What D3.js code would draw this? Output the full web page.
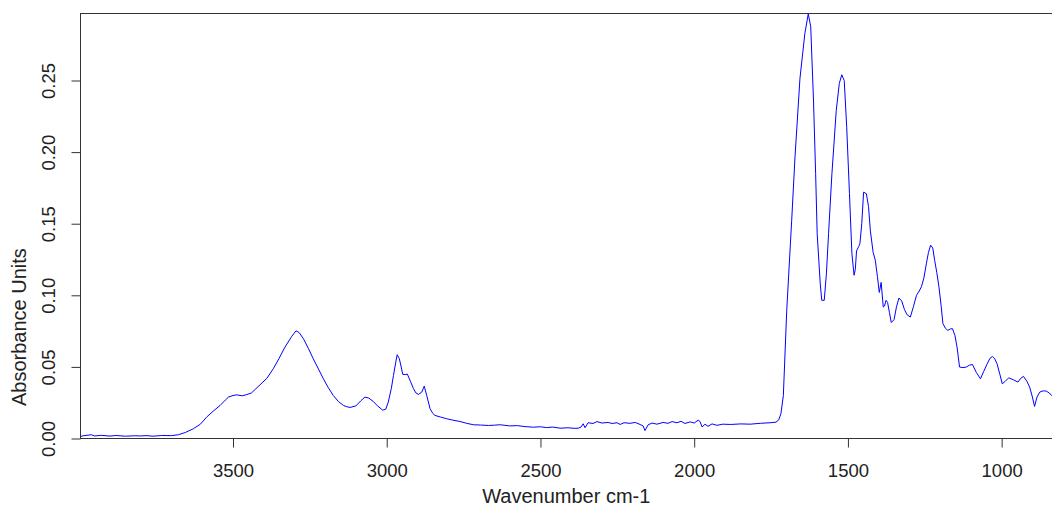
<!DOCTYPE html>
<html>
<head>
<meta charset="utf-8">
<script src="https://cdn.jsdelivr.net/npm/d3@7"></script>
<style>
  html, body { margin: 0; padding: 0; background: #fff; }
  svg { display: block; }
  text { font-family: "Liberation Sans", Arial, sans-serif; fill: #222; }
</style>
</head>
<body>
<svg id="chart" width="1052" height="509"></svg>
<script>
// IR spectrum: wavenumber (cm-1) and absorbance
const wavenumber = [
  3996, 3985, 3960, 3950, 3930, 3900, 3880, 3850, 3820, 3800, 3780, 3760, 3732, 3700, 3678,
  3655, 3629, 3606, 3586, 3565, 3542, 3525, 3515, 3500, 3488, 3470, 3455, 3440, 3412, 3390,
  3369, 3350, 3331, 3310, 3295, 3285, 3271, 3255, 3239, 3222, 3206, 3190, 3174, 3157, 3141,
  3130, 3119, 3100, 3085, 3071, 3058, 3044, 3030, 3013, 3003, 2995, 2985, 2978, 2970, 2966,
  2959, 2953, 2948, 2940, 2933, 2923, 2913, 2905, 2897, 2886, 2878, 2870, 2859, 2850, 2843,
  2825, 2805, 2785, 2762, 2740, 2718, 2695, 2669, 2650, 2631, 2600, 2575, 2550, 2523, 2500,
  2480, 2460, 2436, 2410, 2390, 2377, 2368,
  2361, 2355, 2345, 2329, 2316, 2300, 2280, 2267, 2251, 2241, 2228, 2209, 2192, 2176, 2166,
  2160, 2150, 2137, 2121, 2101, 2085, 2072, 2056, 2043, 2030, 2013, 2000, 1987, 1981, 1974,
  1965, 1955, 1942, 1926, 1907, 1881, 1848, 1818, 1785, 1753, 1734, 1725,
  1718, 1710, 1699, 1683, 1672, 1656, 1640, 1629, 1621, 1612, 1605, 1600, 1590, 1585, 1577,
  1570, 1563, 1552, 1538, 1528, 1520, 1512, 1504, 1495, 1487, 1480, 1476, 1472, 1465, 1461,
  1455, 1449, 1440, 1433, 1427, 1418, 1411, 1404, 1398, 1392, 1385, 1381, 1376, 1371, 1365,
  1359, 1350, 1342, 1334, 1325, 1316, 1308, 1297, 1287, 1277, 1268, 1261, 1253, 1245, 1238,
  1231, 1224, 1218, 1211, 1204, 1197, 1191, 1183, 1175, 1167, 1160, 1152, 1145, 1137, 1126,
  1115, 1105, 1095, 1082, 1069, 1058, 1047, 1038, 1030, 1022, 1015, 1006, 998, 988, 977,
  962, 947, 938, 929, 918, 909, 900, 893, 885, 876, 865, 855, 845, 838, 833
];

const absorbance = [
  0.0014, 0.0020, 0.0026, 0.0018, 0.0022, 0.0017, 0.0021, 0.0016, 0.0019, 0.0018, 0.0020, 0.0016, 0.0021, 0.0020, 0.0026,
  0.0042, 0.0068, 0.0100, 0.0149, 0.0190, 0.0231, 0.0268, 0.0289, 0.0300, 0.0305, 0.0298, 0.0307, 0.0318, 0.0375, 0.0420,
  0.0487, 0.0560, 0.0638, 0.0710, 0.0752, 0.0740, 0.0697, 0.0630, 0.0557, 0.0485, 0.0417, 0.0355, 0.0301, 0.0258, 0.0231,
  0.0222, 0.0217, 0.0228, 0.0262, 0.0289, 0.0282, 0.0259, 0.0228, 0.0198, 0.0205, 0.0254, 0.0350, 0.0441, 0.0540, 0.0585,
  0.0557, 0.0500, 0.0448, 0.0446, 0.0450, 0.0400, 0.0348, 0.0318, 0.0308, 0.0324, 0.0366, 0.0301, 0.0208, 0.0175, 0.0161,
  0.0150, 0.0138, 0.0128, 0.0119, 0.0106, 0.0096, 0.0094, 0.0091, 0.0093, 0.0096, 0.0088, 0.0090, 0.0083, 0.0079, 0.0082,
  0.0076, 0.0080, 0.0072, 0.0075, 0.0071, 0.0072, 0.0080,
  0.0103, 0.0075, 0.0110, 0.0105, 0.0118, 0.0108, 0.0112, 0.0105, 0.0110, 0.0098, 0.0110, 0.0106, 0.0112, 0.0098, 0.0088,
  0.0055, 0.0095, 0.0108, 0.0100, 0.0112, 0.0106, 0.0118, 0.0110, 0.0120, 0.0105, 0.0116, 0.0108, 0.0128, 0.0118, 0.0080,
  0.0100, 0.0085, 0.0102, 0.0092, 0.0100, 0.0098, 0.0102, 0.0100, 0.0106, 0.0110, 0.0114, 0.0130,
  0.0173, 0.0300, 0.0895, 0.1520, 0.1970, 0.2515, 0.2830, 0.2965, 0.2876, 0.2364, 0.1850, 0.1430, 0.1080, 0.0965, 0.0965,
  0.1150, 0.1430, 0.1850, 0.2290, 0.2480, 0.2540, 0.2500, 0.2177, 0.1710, 0.1290, 0.1140, 0.1180, 0.1310, 0.1340, 0.1360,
  0.1500, 0.1720, 0.1710, 0.1620, 0.1450, 0.1300, 0.1245, 0.1130, 0.1020, 0.1090, 0.0918, 0.0925, 0.0965, 0.0950, 0.0880,
  0.0810, 0.0830, 0.0920, 0.0981, 0.0960, 0.0900, 0.0865, 0.0848, 0.0920, 0.1000, 0.1030, 0.1060, 0.1120, 0.1220, 0.1300,
  0.1350, 0.1330, 0.1245, 0.1160, 0.1060, 0.0930, 0.0802, 0.0770, 0.0755, 0.0765, 0.0767, 0.0720, 0.0638, 0.0499, 0.0495,
  0.0499, 0.0512, 0.0517, 0.0460, 0.0417, 0.0470, 0.0522, 0.0560, 0.0573, 0.0555, 0.0522, 0.0450, 0.0382, 0.0400, 0.0424,
  0.0410, 0.0394, 0.0420, 0.0434, 0.0400, 0.0359, 0.0290, 0.0224, 0.0290, 0.0324, 0.0333, 0.0331, 0.0318, 0.0301, 0.0295
];

const xTicks = [3500, 3000, 2500, 2000, 1500, 1000];
const yTicks = [0.00, 0.05, 0.10, 0.15, 0.20, 0.25];

const xLabel = "Wavenumber cm-1";
const yLabel = "Absorbance Units";

const svg = d3.select("#chart");
const plotLeft = 80.5, plotRight = 1053, plotTop = 13.5, plotBottom = 438.5;

// Spectra are plotted with wavenumber decreasing to the right
const x = d3.scaleLinear().domain([3996, 833]).range([plotLeft, plotRight]);
const y = d3.scaleLinear().domain([0, 0.2968]).range([plotBottom, plotTop]);

const axisColor = "#333";
const fontFamily = "Liberation Sans, Arial, sans-serif";

// Spectrum trace
const points = wavenumber.map((w, i) => [w, absorbance[i]]);
svg.append("path")
  .datum(points)
  .attr("fill", "none")
  .attr("stroke", "#0000ff")
  .attr("stroke-width", 1)
  .attr("stroke-linejoin", "round")
  .attr("d", d3.line().x(d => x(d[0])).y(d => y(d[1])));

// Plot frame
svg.append("rect")
  .attr("x", plotLeft).attr("y", plotTop)
  .attr("width", plotRight - plotLeft + 5).attr("height", plotBottom - plotTop)
  .attr("fill", "none").attr("stroke", axisColor).attr("stroke-width", 1);

// Bottom axis
const xAxis = svg.append("g")
  .attr("transform", `translate(0,${plotBottom})`)
  .call(d3.axisBottom(x).tickValues(xTicks).tickSize(9).tickFormat(d3.format("d")));
xAxis.select(".domain").remove();
xAxis.selectAll("line").attr("stroke", axisColor);
xAxis.selectAll("text")
  .attr("fill", "#222").attr("font-size", "18.5px")
  .attr("font-family", fontFamily)
  .attr("dy", null).attr("y", 38);

// Left axis with rotated labels
const yAxis = svg.append("g")
  .attr("transform", `translate(${plotLeft},0)`)
  .call(d3.axisLeft(y).tickValues(yTicks).tickSize(9).tickFormat(d3.format(".2f")));
yAxis.select(".domain").remove();
yAxis.selectAll("line").attr("stroke", axisColor);
yAxis.selectAll("text")
  .attr("fill", "#222").attr("font-size", "18.5px")
  .attr("font-family", fontFamily)
  .attr("x", null).attr("dy", null)
  .attr("text-anchor", "middle")
  .attr("transform", "translate(-26,0) rotate(-90)");

// Axis titles
svg.append("text")
  .attr("x", (plotLeft + 1052) / 2).attr("y", 503)
  .attr("text-anchor", "middle").attr("font-size", "20px")
  .text(xLabel);

svg.append("text")
  .attr("transform", "translate(25.5,406) rotate(-90)")
  .attr("text-anchor", "start").attr("font-size", "20px")
  .text(yLabel);
</script>
</body>
</html>
